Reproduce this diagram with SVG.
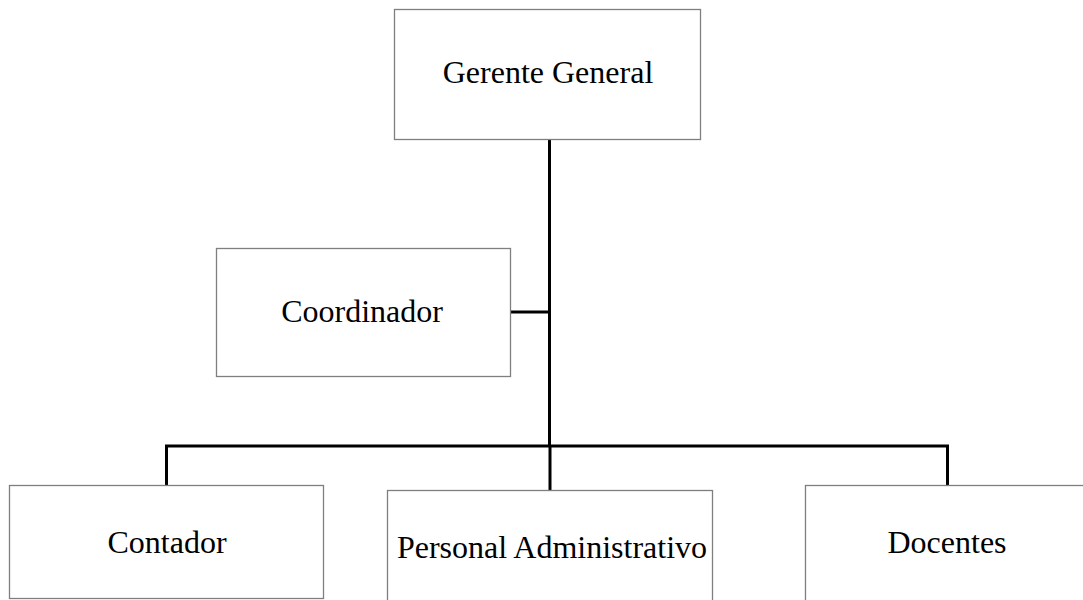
<svg xmlns="http://www.w3.org/2000/svg" width="1083" height="600" viewBox="0 0 1083 600">
  <style>
    .box { fill: #ffffff; stroke: #7f7f7f; stroke-width: 1.3; }
    .label { font-family: "Liberation Serif", "Times New Roman", serif; font-size: 32px; fill: #000000; }
    .wire { fill: none; stroke: #000000; stroke-width: 3; }
  </style>
  <rect width="1083" height="600" fill="#ffffff"/>

  <!-- connectors -->
  <g id="connectors">
    <line class="wire" x1="549.5" y1="139" x2="549.5" y2="446"/>
    <line class="wire" x1="511" y1="312" x2="549.5" y2="312"/>
    <polyline class="wire" points="166.5,486 166.5,446 947.5,446 947.5,486"/>
    <line class="wire" x1="550" y1="446" x2="550" y2="491"/>
  </g>

  <g id="gerente">
    <rect class="box" x="394.5" y="9.5" width="306" height="130"/>
    <text class="label" x="548" y="83" text-anchor="middle">Gerente General</text>
  </g>

  <g id="coordinador">
    <rect class="box" x="216.5" y="248.5" width="294" height="128"/>
    <text class="label" x="362" y="322" text-anchor="middle">Coordinador</text>
  </g>

  <g id="contador">
    <rect class="box" x="9.5" y="485.5" width="314" height="113"/>
    <text class="label" x="167" y="553" text-anchor="middle">Contador</text>
  </g>

  <g id="personal">
    <rect class="box" x="387.5" y="490.5" width="325" height="115"/>
    <text class="label" x="552" y="558" text-anchor="middle">Personal Administrativo</text>
  </g>

  <g id="docentes">
    <rect class="box" x="805.5" y="485.5" width="283" height="118"/>
    <text class="label" x="947" y="553" text-anchor="middle">Docentes</text>
  </g>
</svg>
